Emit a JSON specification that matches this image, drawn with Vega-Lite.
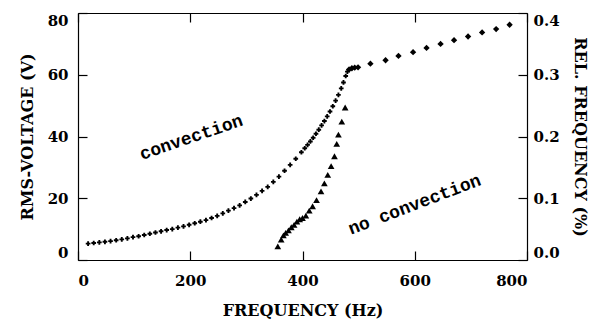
{
  "$schema": "https://vega.github.io/schema/vega-lite/v6.json",
  "width": 449,
  "height": 247,
  "autosize": {"type": "none"},
  "padding": {"left": 78, "top": 13, "right": 75, "bottom": 60},
  "background": "white",
  "config": {
    "view": {"stroke": null},
    "axis": {
      "zindex": 2,
      "domain": true,
      "ticks": true,
      "domainColor": "black",
      "domainWidth": 1.2,
      "tickColor": "black",
      "tickWidth": 1.2,
      "tickSize": -9,
      "labelFont": "DejaVu Serif",
      "labelFontWeight": "bold",
      "labelFontSize": 15,
      "labelColor": "black",
      "titleFont": "DejaVu Serif",
      "titleFontWeight": "bold",
      "titleFontSize": 16,
      "titleColor": "black",
      "grid": false,
      "labelFlush": true
    }
  },
  "datasets": {
    "conv": [
      {"f": 18, "v": 5.3}, {"f": 28, "v": 5.5}, {"f": 38, "v": 5.7}, {"f": 48, "v": 5.9},
      {"f": 58, "v": 6.1}, {"f": 68, "v": 6.4}, {"f": 78, "v": 6.7}, {"f": 88, "v": 7.0},
      {"f": 98, "v": 7.4}, {"f": 108, "v": 7.7}, {"f": 118, "v": 8.1}, {"f": 128, "v": 8.5},
      {"f": 138, "v": 8.9}, {"f": 148, "v": 9.3}, {"f": 158, "v": 9.7}, {"f": 168, "v": 10.0},
      {"f": 178, "v": 10.5}, {"f": 188, "v": 10.9}, {"f": 198, "v": 11.4}, {"f": 208, "v": 11.9},
      {"f": 218, "v": 12.4}, {"f": 228, "v": 12.9}, {"f": 238, "v": 13.6}, {"f": 248, "v": 14.3},
      {"f": 258, "v": 15.1}, {"f": 268, "v": 16.0}, {"f": 278, "v": 16.8}, {"f": 288, "v": 17.7},
      {"f": 298, "v": 18.8}, {"f": 308, "v": 19.9}, {"f": 318, "v": 21.1}, {"f": 328, "v": 22.4},
      {"f": 338, "v": 23.7}, {"f": 348, "v": 25.3}, {"f": 358, "v": 27.0}, {"f": 368, "v": 28.9},
      {"f": 378, "v": 30.8}, {"f": 388, "v": 32.8}, {"f": 398, "v": 34.9}, {"f": 404, "v": 36.2},
      {"f": 409, "v": 37.3}, {"f": 414, "v": 38.4}, {"f": 419, "v": 39.6}, {"f": 424, "v": 40.9},
      {"f": 429, "v": 42.2}, {"f": 434, "v": 43.6}, {"f": 439, "v": 45.0}, {"f": 444, "v": 46.5},
      {"f": 449, "v": 48.1}, {"f": 454, "v": 49.8}, {"f": 459, "v": 51.6}, {"f": 464, "v": 53.5},
      {"f": 469, "v": 55.6}, {"f": 473, "v": 57.5}, {"f": 477, "v": 59.6}, {"f": 480, "v": 61.0}
    ],
    "noconv": [
      {"f": 483, "v": 61.7}, {"f": 488, "v": 62.1}, {"f": 493, "v": 62.3}, {"f": 499, "v": 62.4},
      {"f": 521, "v": 63.6}, {"f": 548, "v": 64.7}, {"f": 571, "v": 66.1}, {"f": 597, "v": 67.3},
      {"f": 621, "v": 68.7}, {"f": 646, "v": 70.0}, {"f": 670, "v": 71.2}, {"f": 695, "v": 72.4},
      {"f": 720, "v": 73.7}, {"f": 745, "v": 74.8}, {"f": 769, "v": 76.2}
    ],
    "rel": [
      {"f": 356, "r": 0.022}, {"f": 362, "r": 0.033}, {"f": 366, "r": 0.040}, {"f": 370, "r": 0.044},
      {"f": 375, "r": 0.048}, {"f": 380, "r": 0.053}, {"f": 385, "r": 0.057}, {"f": 390, "r": 0.062},
      {"f": 395, "r": 0.066}, {"f": 400, "r": 0.068}, {"f": 406, "r": 0.072}, {"f": 412, "r": 0.080},
      {"f": 418, "r": 0.087}, {"f": 425, "r": 0.097}, {"f": 433, "r": 0.111}, {"f": 439, "r": 0.124},
      {"f": 445, "r": 0.138}, {"f": 451, "r": 0.152}, {"f": 457, "r": 0.168}, {"f": 461, "r": 0.188},
      {"f": 464, "r": 0.203}, {"f": 470, "r": 0.224}, {"f": 476, "r": 0.247}
    ],
    "notes": [
      {"f": 202, "v": 39.6, "label": "convection"},
      {"f": 600, "v": 17.8, "label": "no convection"}
    ]
  },
  "layer": [
    {
      "data": {"name": "conv"},
      "mark": {"type": "point", "shape": "cross", "filled": true, "color": "black", "size": 22, "opacity": 1},
      "encoding": {
        "x": {"field": "f", "type": "quantitative", "scale": {"domain": [0, 800], "nice": false},
              "axis": {"orient": "bottom", "values": [0, 200, 400, 600, 800], "labelPadding": 22, "title": "FREQUENCY (Hz)", "titlePadding": 14}},
        "y": {"field": "v", "type": "quantitative", "scale": {"domain": [0, 80], "nice": false},
              "axis": {"orient": "left", "values": [0, 20, 40, 60, 80], "labelPadding": 19, "title": "RMS-VOLTAGE (V)", "titlePadding": 12}}
      }
    },
    {
      "data": {"name": "noconv"},
      "mark": {"type": "point", "shape": "diamond", "filled": true, "color": "black", "size": 40, "opacity": 1},
      "encoding": {
        "x": {"field": "f", "type": "quantitative", "scale": {"domain": [0, 800], "nice": false}, "axis": null},
        "y": {"field": "v", "type": "quantitative", "scale": {"domain": [0, 80], "nice": false}, "axis": null}
      }
    },
    {
      "data": {"name": "notes"},
      "transform": [{"filter": "datum.label == 'convection'"}],
      "mark": {"type": "text", "font": "Liberation Mono", "fontWeight": "bold", "fontSize": 18, "angle": 341, "align": "center", "baseline": "middle", "color": "black"},
      "encoding": {
        "x": {"field": "f", "type": "quantitative", "scale": {"domain": [0, 800], "nice": false}, "axis": null},
        "y": {"field": "v", "type": "quantitative", "scale": {"domain": [0, 80], "nice": false}, "axis": null},
        "text": {"field": "label"}
      }
    },
    {
      "data": {"name": "notes"},
      "transform": [{"filter": "datum.label == 'no convection'"}],
      "mark": {"type": "text", "font": "Liberation Mono", "fontWeight": "bold", "fontSize": 18, "angle": 339, "align": "center", "baseline": "middle", "color": "black"},
      "encoding": {
        "x": {"field": "f", "type": "quantitative", "scale": {"domain": [0, 800], "nice": false}, "axis": null},
        "y": {"field": "v", "type": "quantitative", "scale": {"domain": [0, 80], "nice": false}, "axis": null},
        "text": {"field": "label"}
      }
    },
    {
      "data": {"name": "rel"},
      "mark": {"type": "point", "shape": "triangle-up", "filled": true, "color": "black", "size": 45, "opacity": 1},
      "encoding": {
        "x": {"field": "f", "type": "quantitative", "scale": {"domain": [0, 800], "nice": false},
              "axis": {"orient": "top", "values": [0, 200, 400, 600, 800], "labels": false, "title": null}},
        "y": {"field": "r", "type": "quantitative", "scale": {"domain": [0, 0.4], "nice": false},
              "axis": {"orient": "right", "values": [0, 0.1, 0.2, 0.3, 0.4], "format": ".1f", "labelPadding": 15, "title": "REL. FREQUENCY (%)", "titlePadding": 12}}
      }
    }
  ],
  "resolve": {"scale": {"x": "independent", "y": "independent"}}
}
